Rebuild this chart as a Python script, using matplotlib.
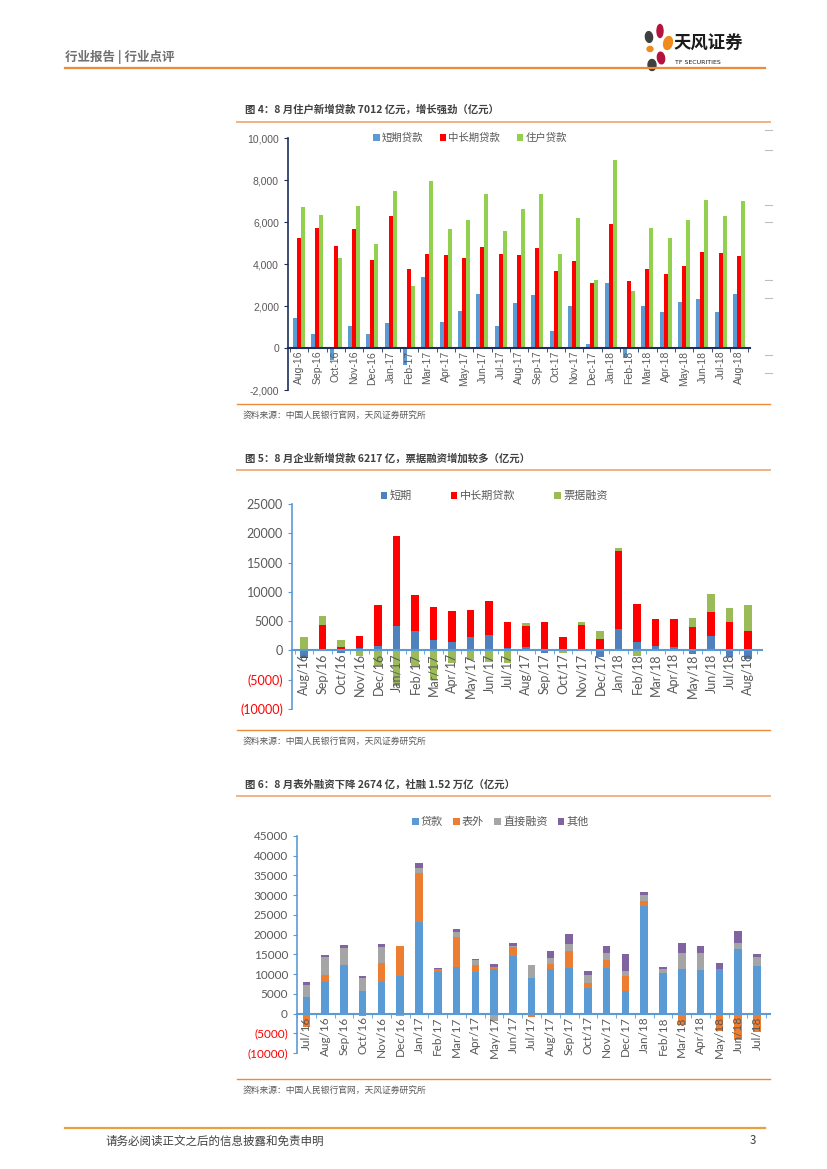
import numpy as np
import matplotlib.pyplot as plt
from matplotlib.lines import Line2D
from matplotlib.patches import Ellipse

plt.rcParams['font.family'] = ['Noto Sans CJK SC', 'DejaVu Sans']

# ---- data ----
months1 = ['Aug-16', 'Sep-16', 'Oct-16', 'Nov-16', 'Dec-16', 'Jan-17', 'Feb-17', 'Mar-17',
           'Apr-17', 'May-17', 'Jun-17', 'Jul-17', 'Aug-17', 'Sep-17', 'Oct-17', 'Nov-17',
           'Dec-17', 'Jan-18', 'Feb-18', 'Mar-18', 'Apr-18', 'May-18', 'Jun-18', 'Jul-18', 'Aug-18']
short1 = [1450, 690, -580, 1070, 690, 1210, -820, 3390, 1260, 1780, 2580, 1070, 2160,
          2540, 790, 2020, 170, 3100, -470, 2020, 1730, 2210, 2350, 1730, 2580]
mid1 = [5250, 5720, 4860, 5670, 4190, 6270, 3770, 4480, 4430, 4290, 4810, 4480, 4430,
        4760, 3670, 4150, 3110, 5910, 3200, 3770, 3530, 3910, 4570, 4530, 4380]
house1 = [6700, 6320, 4290, 6750, 4950, 7460, 2970, 7930, 5660, 6090, 7310, 5570, 6610,
          7310, 4480, 6180, 3250, 8970, 2730, 5710, 5230, 6090, 7030, 6270, 7012]

months2 = ['Aug/16', 'Sep/16', 'Oct/16', 'Nov/16', 'Dec/16', 'Jan/17', 'Feb/17', 'Mar/17',
           'Apr/17', 'May/17', 'Jun/17', 'Jul/17', 'Aug/17', 'Sep/17', 'Oct/17', 'Nov/17',
           'Dec/17', 'Jan/18', 'Feb/18', 'Mar/18', 'Apr/18', 'May/18', 'Jun/18', 'Jul/18', 'Aug/18']
short2 = [-1100, 100, -400, 400, 800, 4200, 3300, 1850, 1500, 2350, 2700, 450, 580,
          -400, 0, 200, -1080, 3700, 1370, 700, 580, -680, 2450, -1140, -1500]
mid2 = [-200, 4300, 650, 2100, 7000, 15300, 6100, 5500, 5200, 4500, 5800, 4450, 3650,
        4900, 2300, 4130, 1900, 13300, 6600, 4750, 4750, 3950, 4100, 4850, 3300]
bill2 = [2300, 1500, 1150, -970, -2600, -6000, -2600, -5000, -2200, -1550, -2000, -2200, 400,
         0, -500, 450, 1500, 450, -900, 0, 0, 1550, 3050, 2400, 4400]

months3 = ['Jul/16', 'Aug/16', 'Sep/16', 'Oct/16', 'Nov/16', 'Dec/16', 'Jan/17', 'Feb/17',
           'Mar/17', 'Apr/17', 'May/17', 'Jun/17', 'Jul/17', 'Aug/17', 'Sep/17', 'Oct/17',
           'Nov/17', 'Dec/17', 'Jan/18', 'Feb/18', 'Mar/18', 'Apr/18', 'May/18', 'Jun/18', 'Jul/18']
loan3 = [4100, 7950, 12230, 5640, 8120, 9400, 23260, 10520, 11880, 10520, 11400, 14540, 8890,
         11200, 11540, 6580, 11540, 5810, 27330, 10350, 11370, 10940, 11370, 16250, 12060]
offbs3 = [-3300, 1900, 0, -600, 4790, 7610, 12460, 850, 7530, 1710, 300, 2220, -770,
          1280, 4280, 1120, 1970, 3590, 1280, 0, -2900, 0, -4500, -6800, -4600]
direct3 = [3200, 4360, 4440, 3420, 3850, -700, 1280, -400, 1190, 1280, -1900, 430, 3510,
           1630, 1710, 2130, 1880, 1460, 1540, 1020, 4020, 4280, 0, 1710, 2220]
other3 = [700, 600, 600, 520, 770, 0, 1280, 260, 770, 430, 900, 770, 0,
          1620, 2560, 1030, 1620, 4270, 770, 430, 2400, 1970, 1460, 2990, 850]

W, H = 827, 1169
GRAY = '#595959'
ORANGE = '#ED8B3A'
TAN = '#F4B183'


def rect(l, t, r, b):
    return [l / W, 1 - b / H, (r - l) / W, (b - t) / H]


def fx(x):
    return x / W


def fy(y):
    return 1 - y / H


def hline(fig, x0, x1, y, color, lw):
    fig.add_artist(Line2D([fx(x0), fx(x1)], [fy(y), fy(y)], color=color, lw=lw))


def stacked(ax, x, series, colors, labels, width):
    # excel-style stacking: positives upward, negatives downward
    pos = np.zeros(len(x))
    neg = np.zeros(len(x))
    for vals, c, lab in zip(series, colors, labels):
        vals = np.asarray(vals, float)
        base = np.where(vals >= 0, pos, neg)
        ax.bar(x, vals, width, bottom=base, color=c, label=lab)
        pos = pos + np.clip(vals, 0, None)
        neg = neg + np.clip(vals, None, 0)


def style_cat_axis(ax, x, labels, color, family, size):
    ax.spines['top'].set_visible(False)
    ax.spines['right'].set_visible(False)
    ax.spines['bottom'].set_position(('data', 0))
    ax.spines['bottom'].set_color(color)
    ax.spines['left'].set_color(color)
    ax.spines['bottom'].set_linewidth(1.5)
    ax.spines['left'].set_linewidth(1.2)
    ax.set_xticks(x)
    ax.set_xticklabels(labels, rotation=90, fontfamily=family, fontsize=size, color=GRAY)
    ax.set_xticks(np.arange(-0.5, len(x), 1), minor=True)
    ax.tick_params(axis='x', which='major', length=0, pad=2)
    ax.tick_params(axis='x', which='minor', length=3, color=color, direction='out')
    ax.tick_params(axis='y', length=3, color=color, labelsize=size, labelcolor=GRAY)
    for t in ax.get_yticklabels():
        t.set_fontfamily(family)


fig = plt.figure(figsize=(8.27, 11.69), dpi=100)

# ---- page header / footer ----
fig.text(fx(65), fy(57), '行业报告 | 行业点评', fontsize=9, color='#6E6E6E', fontweight='bold', va='center')
hline(fig, 65, 765, 68, ORANGE, 1.6)
petals = [(649, 37, 7, 11, 30, '#3F3F3F'), (660, 31, 6, 13, 0, '#B5123C'),
          (668, 43, 8, 14, -40, '#F08A1C'), (650, 49, 6, 5, 0, '#F08A1C'),
          (661, 58, 7, 12, 25, '#B5123C'), (652, 65, 8, 11, -20, '#3F3F3F')]
for px, py, pw, ph, ang, col in petals:
    fig.add_artist(Ellipse((fx(px), fy(py)), pw / W, ph / H, angle=ang, color=col,
                           transform=fig.transFigure))
fig.text(fx(674), fy(44), '天风证券', fontsize=12.5, fontweight='bold', color='#1A1A1A', va='center')
fig.text(fx(675), fy(62), 'TF SECURITIES', fontsize=4.5, color='#1A1A1A', va='center',
         family='DejaVu Sans')
hline(fig, 65, 765, 1128, '#E9A03A', 1.6)
fig.text(fx(105), fy(1141), '请务必阅读正文之后的信息披露和免责申明', fontsize=8.3, color='#404040', va='center')
fig.text(fx(756), fy(1141), '3', fontsize=8.3, color='#404040', va='center', ha='right')

# ---- chart titles, separators, sources ----
titles = [(110, 122, 404, 415, '图 4：8 月住户新增贷款 7012 亿元，增长强劲（亿元）'),
          (459, 470, 730, 741, '图 5：8 月企业新增贷款 6217 亿，票据融资增加较多（亿元）'),
          (785, 796, 1079, 1090, '图 6：8 月表外融资下降 2674 亿，社融 1.52 万亿（亿元）')]
for ty, ly, sy_line, sy, txt in titles:
    fig.text(fx(245), fy(ty), txt, fontsize=7.5, fontweight='bold', color='#404040', va='center')
    hline(fig, 237, 770, ly, TAN, 1.4)
    hline(fig, 237, 770, sy_line, ORANGE, 1.0)
    fig.text(fx(243), fy(sy), '资料来源：中国人民银行官网，天风证券研究所', fontsize=6.3,
             color=GRAY, va='center')

# ---- chart 1 ----
ax1 = fig.add_axes(rect(288, 138, 750, 390))
x1 = np.arange(len(months1))
w = 0.22
ax1.bar(x1 - w, short1, w, color='#5B9BD5', label='短期贷款')
ax1.bar(x1, mid1, w, color='#FF0000', label='中长期贷款')
ax1.bar(x1 + w, house1, w, color='#92D050', label='住户贷款')
ax1.set_xlim(-0.6, 24.6)
ax1.set_ylim(-2000, 10000)
yt1 = np.arange(-2000, 10001, 2000)
ax1.set_yticks(yt1)
ax1.set_yticklabels([f'{v:,}' for v in yt1])
style_cat_axis(ax1, x1, months1, '#1F2F5C', 'Liberation Sans', 7.5)
ax1.legend(loc='center', bbox_to_anchor=(0.394, 1.0), ncol=3, frameon=False, fontsize=7.5,
           handlelength=0.6, handleheight=0.6, handletextpad=0.2, columnspacing=1.6,
           labelcolor=GRAY)
for yy in [130, 150, 205, 222, 280, 298, 355, 373]:
    hline(fig, 765, 772, yy, '#BFBFBF', 0.8)

# ---- chart 2 ----
ax2 = fig.add_axes(rect(292, 504, 762, 709))
x2 = np.arange(len(months2))
stacked(ax2, x2, [short2, mid2, bill2], ['#4F81BD', '#FF0000', '#9BBB59'],
        ['短期', '中长期贷款', '票据融资'], 0.4)
ax2.set_xlim(-0.65, 24.75)
ax2.set_ylim(-10000, 25000)
yt2 = np.arange(-10000, 25001, 5000)
ax2.set_yticks(yt2)
ax2.set_yticklabels([f'({-v})' if v < 0 else f'{v}' for v in yt2])
style_cat_axis(ax2, x2, months2, '#5B9BD5', 'Lato', 9)
for t, v in zip(ax2.get_yticklabels(), yt2):
    if v < 0:
        t.set_color('#FF0000')
ax2.legend(loc='center', bbox_to_anchor=(0.43, 1.04), ncol=3, frameon=False, fontsize=8,
           handlelength=0.6, handleheight=0.6, handletextpad=0.2, columnspacing=3.5,
           labelcolor=GRAY)

# ---- chart 3 ----
ax3 = fig.add_axes(rect(297, 836, 770, 1053))
x3 = np.arange(len(months3))
stacked(ax3, x3, [loan3, offbs3, direct3, other3], ['#5B9BD5', '#ED7D31', '#A5A5A5', '#8064A2'],
        ['贷款', '表外', '直接融资', '其他'], 0.4)
ax3.set_xlim(-0.42, 24.7)
ax3.set_ylim(-10000, 45000)
yt3 = np.arange(-10000, 45001, 5000)
ax3.set_yticks(yt3)
ax3.set_yticklabels([f'({-v})' if v < 0 else f'{v}' for v in yt3])
style_cat_axis(ax3, x3, months3, '#5B9BD5', 'Lato', 8.5)
for t, v in zip(ax3.get_yticklabels(), yt3):
    if v < 0:
        t.set_color('#FF0000')
ax3.legend(loc='center', bbox_to_anchor=(0.43, 1.065), ncol=4, frameon=False, fontsize=8,
           handlelength=0.6, handleheight=0.6, handletextpad=0.2, columnspacing=0.9,
           labelcolor=GRAY)

fig.savefig('out.png', dpi=100)
